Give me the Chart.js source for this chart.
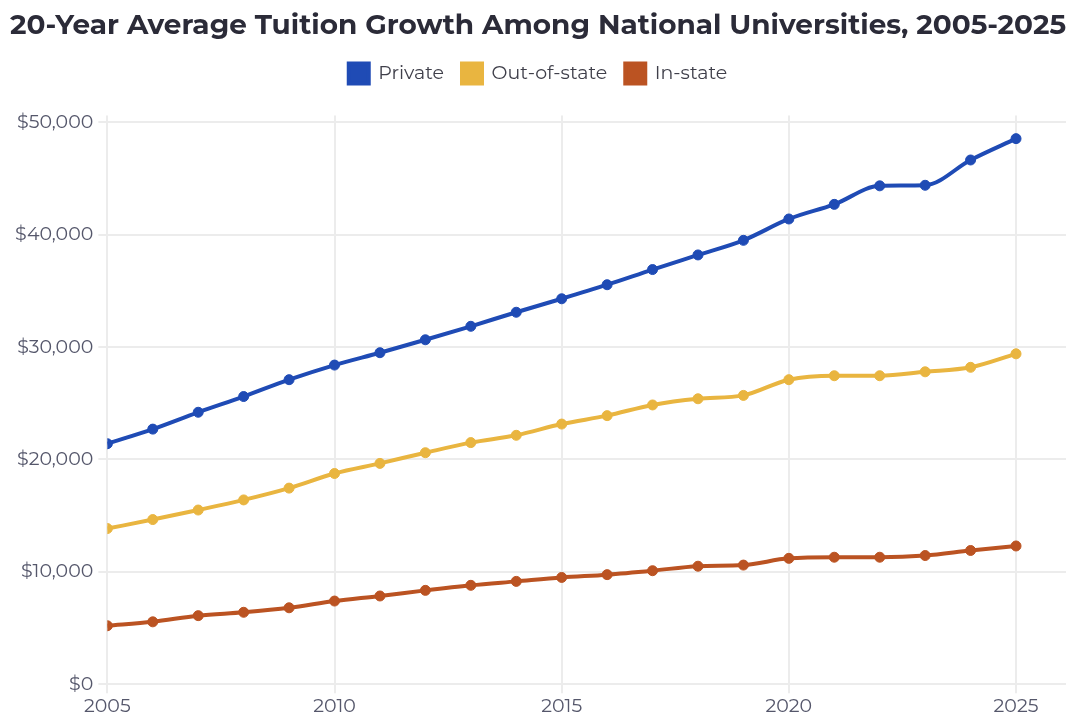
<!DOCTYPE html>
<html>
<head>
<meta charset="utf-8">
<script src="https://cdn.jsdelivr.net/npm/chart.js@4/dist/chart.umd.min.js"></script>
<style>
  html, body { margin: 0; padding: 0; background: #ffffff; }
  #wrap { width: 1080px; height: 726px; position: relative; }
</style>
</head>
<body>
<div id="wrap"><canvas id="c" width="1080" height="726"></canvas></div>
<script>
const years = [2005,2006,2007,2008,2009,2010,2011,2012,2013,2014,2015,2016,2017,2018,2019,2020,2021,2022,2023,2024,2025];
const privateTuition = [21400,22700,24200,25600,27100,28400,29500,30650,31850,33100,34300,35550,36900,38200,39500,41400,42700,44350,44400,46650,48550];
const outOfStateTuition = [13850,14650,15500,16400,17450,18750,19650,20600,21500,22150,23150,23900,24850,25400,25700,27100,27450,27450,27800,28200,29400];
const inStateTuition = [5200,5550,6100,6400,6800,7400,7850,8350,8800,9150,9500,9750,10100,10500,10600,11200,11300,11300,11450,11900,12300];
const xTickValues = [2005, 2010, 2015, 2020, 2025];
const yTickValues = [0, 10000, 20000, 30000, 40000, 50000];
const seriesNames = ['Private', 'Out-of-state', 'In-state'];
const titleText = '20-Year Average Tuition Growth Among National Universities, 2005-2025';

const colors = ['#1f4bb5', '#e9b540', '#bb5322'];
const toPts = arr => years.map((y, i) => ({ x: y, y: arr[i] }));
const allSeries = [privateTuition, outOfStateTuition, inStateTuition];

const ds = allSeries.map((arr, i) => ({
  label: seriesNames[i],
  data: toPts(arr),
  borderColor: colors[i],
  backgroundColor: colors[i],
  pointBackgroundColor: colors[i],
  pointBorderColor: colors[i],
  pointRadius: 5,
  pointBorderWidth: 1,
  borderWidth: 4,
  cubicInterpolationMode: 'monotone',
  fill: false
}));

const font = "Montserrat, 'Open Sans', 'Noto Sans', sans-serif";

const legendSpacer = {
  id: 'legendSpacer',
  beforeInit(chart) {
    const origFit = chart.legend.fit;
    chart.legend.fit = function () {
      origFit.call(this);
      this.height += 22;
    };
  }
};

new Chart(document.getElementById('c'), {
  type: 'line',
  data: { datasets: ds },
  plugins: [legendSpacer],
  options: {
    responsive: false,
    animation: false,
    devicePixelRatio: 1,
    layout: { padding: { left: 10, right: 14, top: 9, bottom: 6 } },
    plugins: {
      title: {
        display: true,
        text: titleText,
        color: '#2b2b38',
        font: { family: font, size: 28, weight: 'bold' },
        padding: { top: 0, bottom: 3 }
      },
      legend: {
        display: true,
        labels: {
          boxWidth: 20,
          boxHeight: 20,
          color: '#3f3f4a',
          font: { family: font, size: 19 },
          padding: 18
        }
      },
      tooltip: { enabled: false }
    },
    scales: {
      x: {
        type: 'linear',
        min: 2005,
        max: 2026.1,
        afterBuildTicks: axis => { axis.ticks = xTickValues.map(v => ({ value: v })); },
        ticks: {
          color: '#55576b',
          font: { family: font, size: 19 },
          padding: 2,
          maxRotation: 0,
          autoSkip: false,
          callback: v => String(v)
        },
        grid: { color: '#ececec', lineWidth: 2, tickLength: 9 },
        border: { display: false }
      },
      y: {
        min: 0,
        max: 50600,
        afterBuildTicks: axis => { axis.ticks = yTickValues.map(v => ({ value: v })); },
        ticks: {
          color: '#55576b',
          font: { family: font, size: 19 },
          padding: 5,
          autoSkip: false,
          callback: v => '$' + Number(v).toLocaleString('en-US')
        },
        grid: { color: '#ececec', lineWidth: 2, tickLength: 9 },
        border: { display: false }
      }
    }
  }
});
</script>
</body>
</html>
